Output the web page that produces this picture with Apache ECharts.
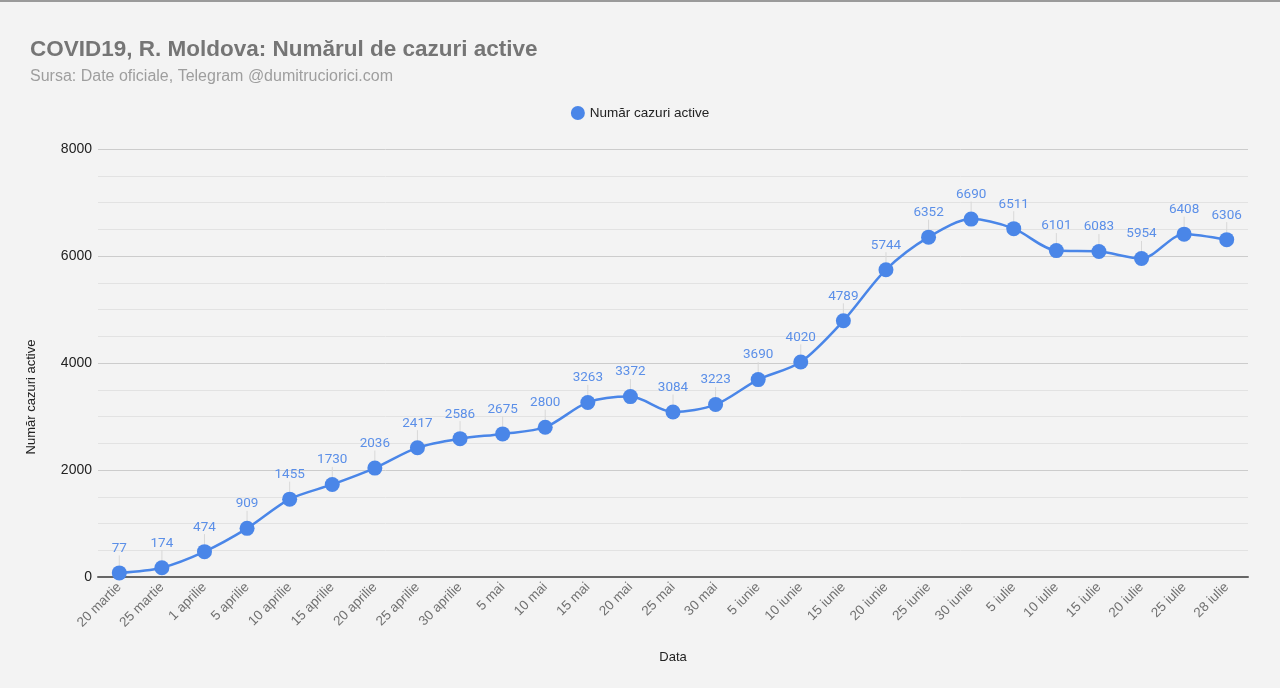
<!DOCTYPE html>
<html>
<head>
<meta charset="utf-8">
<script src="https://cdn.jsdelivr.net/npm/echarts@6/dist/echarts.min.js"></script>
<style>
  html, body { margin: 0; padding: 0; background: #f3f3f3; }
  #chart { width: 1280px; height: 688px; border-top: 2px solid #9a9a9a; box-sizing: border-box; }
</style>
</head>
<body>
<div id="chart"></div>
<script>
  // date labels
  var zile = ['20 martie', '25 martie', '1 aprilie', '5 aprilie', '10 aprilie', '15 aprilie',
    '20 aprilie', '25 aprilie', '30 aprilie', '5 mai', '10 mai', '15 mai', '20 mai', '25 mai',
    '30 mai', '5 iunie', '10 iunie', '15 iunie', '20 iunie', '25 iunie', '30 iunie', '5 iulie',
    '10 iulie', '15 iulie', '20 iulie', '25 iulie', '28 iulie'];
  // active cases
  var cazuriActive = [77, 174, 474, 909, 1455, 1730, 2036, 2417, 2586, 2675, 2800, 3263, 3372,
    3084, 3223, 3690, 4020, 4789, 5744, 6352, 6690, 6511, 6101, 6083, 5954, 6408, 6306];
  var yTicks = [0, 2000, 4000, 6000, 8000];

  var blue = '#4a86e8';

  var option = {
    backgroundColor: '#f3f3f3',
    animation: false,
    title: {
      text: 'COVID19, R. Moldova: Numărul de cazuri active',
      subtext: 'Sursa: Date oficiale, Telegram @dumitruciorici.com',
      left: 25,
      top: 31,
      itemGap: 8,
      textStyle: { fontFamily: 'Liberation Sans', fontSize: 22.5, fontWeight: 'bold', color: '#757575' },
      subtextStyle: { fontFamily: 'Liberation Sans', fontSize: 16, color: '#9e9e9e' }
    },
    legend: {
      top: 99,
      left: 'center',
      icon: 'circle',
      itemWidth: 14,
      itemHeight: 14,
      itemGap: 6,
      textStyle: { fontFamily: 'Liberation Sans', fontSize: 13.5, color: '#222' },
      data: ['Număr cazuri active']
    },
    grid: { left: 98, right: 32, top: 147, bottom: 111 },
    xAxis: {
      type: 'category',
      data: zile,
      boundaryGap: true,
      name: 'Data',
      nameLocation: 'middle',
      nameGap: 74,
      nameTextStyle: { fontFamily: 'Liberation Sans', fontSize: 13, color: '#222' },
      axisLine: { lineStyle: { color: '#666', width: 2 } },
      axisTick: { show: false },
      axisLabel: {
        rotate: 45,
        interval: 0,
        margin: 8,
        fontFamily: 'Liberation Sans',
        fontSize: 13.5,
        color: '#707070'
      }
    },
    yAxis: {
      type: 'value',
      min: yTicks[0],
      max: yTicks[yTicks.length - 1],
      interval: 2000,
      name: 'Număr cazuri active',
      nameLocation: 'middle',
      nameGap: 60,
      nameTextStyle: { fontFamily: 'Liberation Sans', fontSize: 13, color: '#222', padding: [0, 68, 0, 0] },
      axisLine: { show: false },
      axisTick: { show: false },
      axisLabel: {
        fontFamily: 'Liberation Sans', fontSize: 14, color: '#222', margin: 6,
        formatter: function (v) { return String(v); }
      },
      splitLine: { lineStyle: { color: '#cccccc', width: 1 } },
      minorTick: { show: false, splitNumber: 4 },
      minorSplitLine: { show: true, lineStyle: { color: '#e2e2e2', width: 1 } }
    },
    series: [{
      name: 'Număr cazuri active',
      type: 'line',
      data: cazuriActive,
      smooth: 0.3,
      symbol: 'circle',
      symbolSize: 15,
      itemStyle: { color: blue },
      lineStyle: { color: blue, width: 2.5 },
      label: {
        show: true,
        position: 'top',
        distance: 2,
        fontFamily: 'Roboto',
        fontSize: 13.5,
        color: '#5b8fe8'
      },
      labelLayout: { dy: -8 },
      labelLine: { show: true, lineStyle: { color: '#d8d8d8', width: 1 } }
    }]
  };

  var chart = echarts.init(document.getElementById('chart'));
  chart.setOption(option);
</script>
</body>
</html>
